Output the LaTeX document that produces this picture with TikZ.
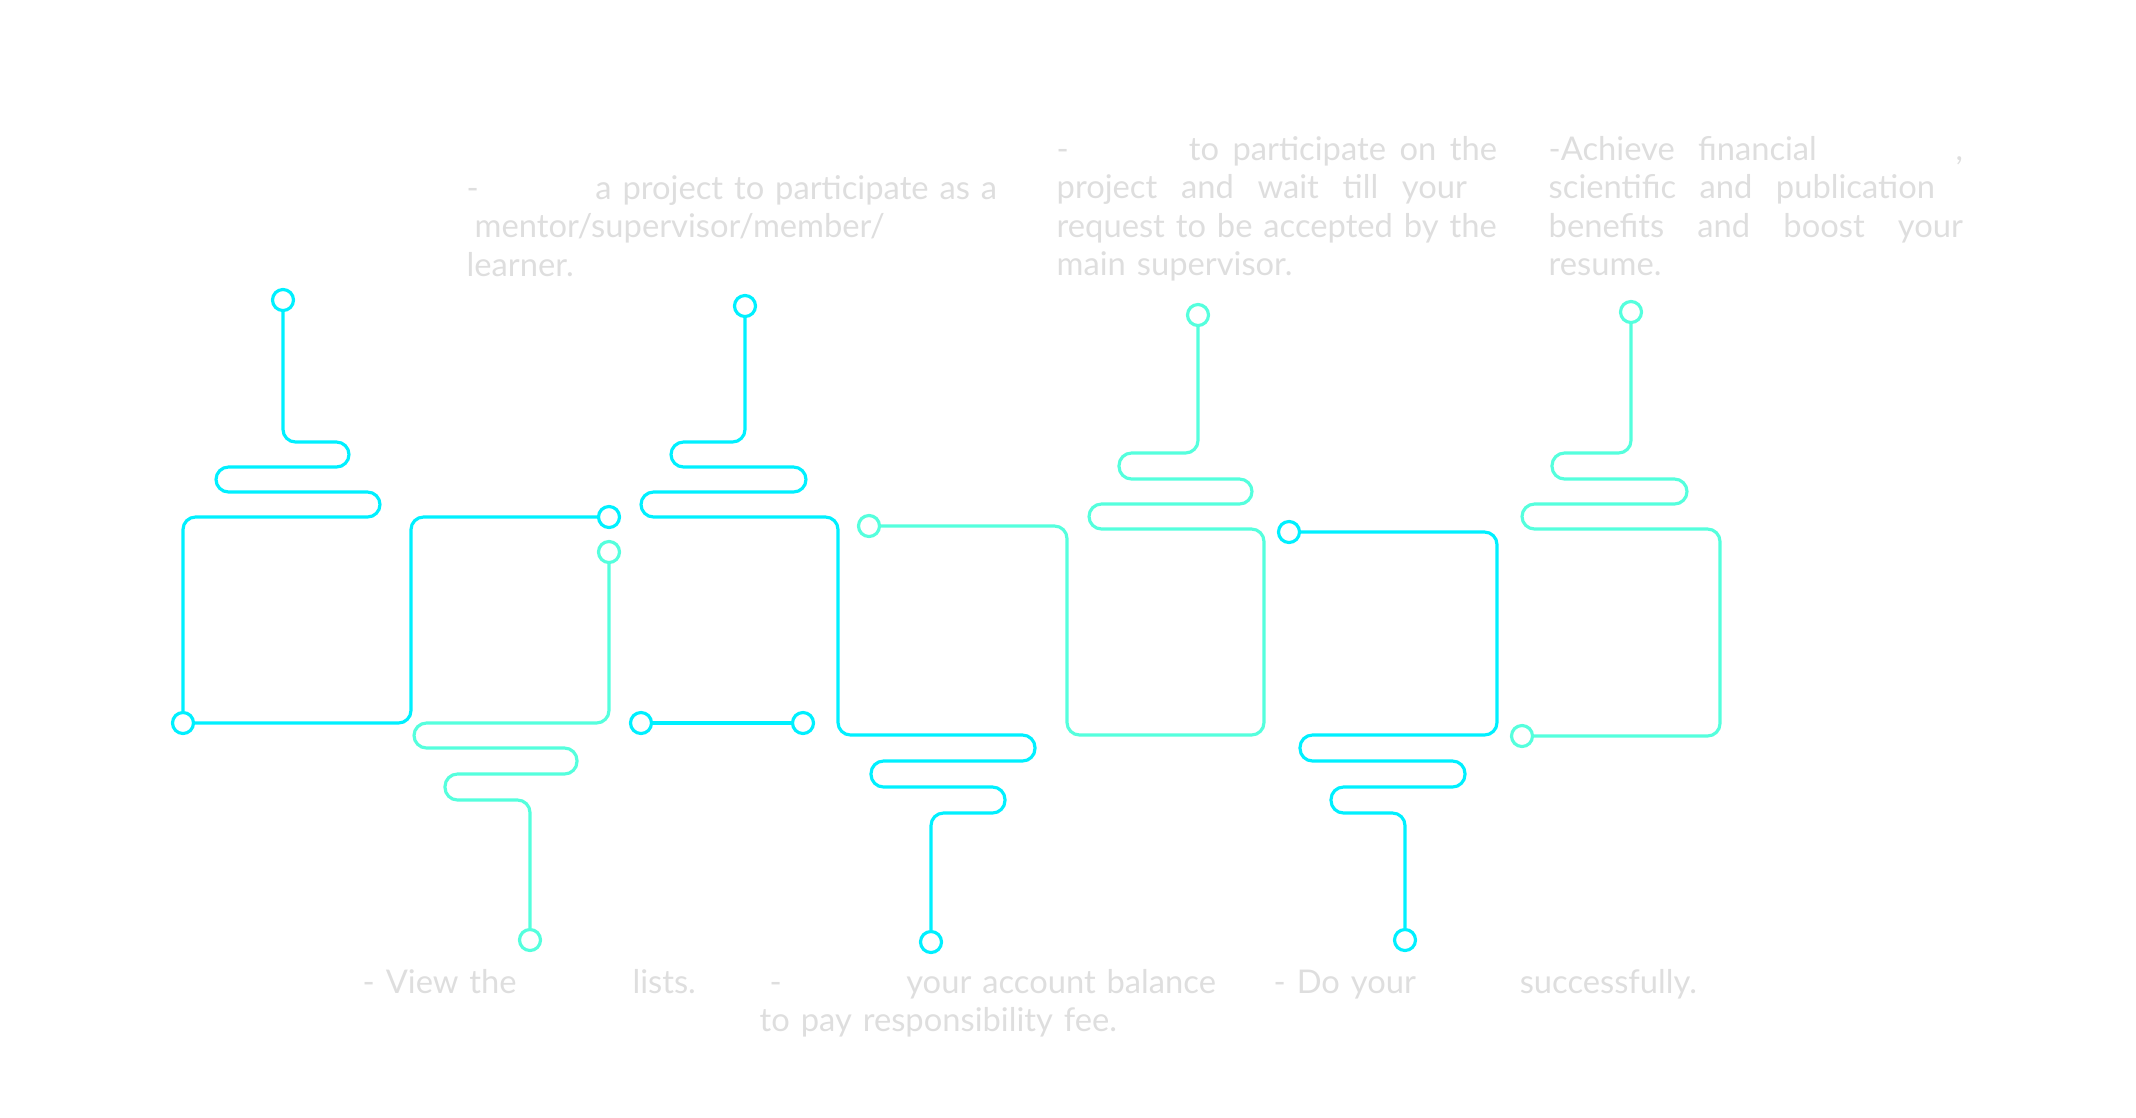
\documentclass[tikz,border=0pt]{standalone}
\usepackage{fontspec}
\setmainfont{Lato}
\definecolor{wirecyan}{RGB}{0,240,255}
\definecolor{wireteal}{RGB}{85,255,221}
\definecolor{notegray}{RGB}{222,222,222}
\tikzstyle{cyanpin} = [circle, draw=wirecyan, line width=0.9pt, inner sep=0pt, minimum size=2.1mm, fill=white]
\tikzstyle{tealpin} = [circle, draw=wireteal, line width=0.9pt, inner sep=0pt, minimum size=2.1mm, fill=white]
\tikzstyle{cyanwire} = [draw=wirecyan, line width=0.9pt, rounded corners=1.25mm]
\tikzstyle{tealwire} = [draw=wireteal, line width=0.9pt, rounded corners=1.25mm]
\tikzstyle{note} = [text=notegray, inner sep=0pt, anchor=base west, font=\fontsize{9.3pt}{0.385cm}\selectfont]

\begin{document}
\begin{tikzpicture}[x=0.01cm, y=-0.01cm]
\useasboundingbox (0,0) rectangle (2136,1117);

% Pins
\node (a1) [cyanpin] at (283,300) {};
\node (a2) [cyanpin] at (183,723) {};
\node (b1) [cyanpin] at (609,517) {};
\node (c1) [tealpin] at (609,552) {};
\node (c2) [tealpin] at (530,940) {};
\node (d1) [cyanpin] at (641,723) {};
\node (d2) [cyanpin] at (803,723) {};
\node (e1) [cyanpin] at (745,306) {};
\node (e2) [cyanpin] at (931,942) {};
\node (f1) [tealpin] at (869,526) {};
\node (f2) [tealpin] at (1198,315) {};
\node (g1) [cyanpin] at (1289,532) {};
\node (g2) [cyanpin] at (1405,940) {};
\node (h1) [tealpin] at (1522,736) {};
\node (h2) [tealpin] at (1631,312) {};

% Wires
\draw [cyanwire] (a1) -- (283,442) -- (349,442) -- (349,467) -- (216,467) -- (216,492) -- (380,492) -- (380,517) -- (183,517) -- (a2);
\draw [cyanwire] (a2) -- (411,723) -- (411,517) -- (b1);
\draw [tealwire] (c1) -- (609,723) -- (414,723) -- (414,748) -- (577,748) -- (577,774) -- (445,774) -- (445,800) -- (530,800) -- (c2);
\draw [cyanwire] (d1) -- (d2);
\draw [cyanwire] (e1) -- (745,442) -- (671,442) -- (671,467) -- (806,467) -- (806,492) -- (641,492) -- (641,517) -- (838,517) -- (838,735) -- (1035,735) -- (1035,761) -- (871,761) -- (871,787) -- (1005,787) -- (1005,813) -- (931,813) -- (e2);
\draw [tealwire] (f1) -- (1067,526) -- (1067,735) -- (1264,735) -- (1264,529) -- (1089,529) -- (1089,504) -- (1252,504) -- (1252,479) -- (1119,479) -- (1119,453) -- (1198,453) -- (f2);
\draw [cyanwire] (g1) -- (1497,532) -- (1497,735) -- (1300,735) -- (1300,761) -- (1465,761) -- (1465,787) -- (1331,787) -- (1331,813) -- (1405,813) -- (g2);
\draw [tealwire] (h1) -- (1720,736) -- (1720,529) -- (1522,529) -- (1522,504) -- (1687,504) -- (1687,479) -- (1552,479) -- (1552,453) -- (1631,453) -- (h2);

% Notes
\node (choose) [note, text width=5.50cm] at (466,199) {\makebox[5.30cm][s]{-\hfill a project to participate as a}\\\hspace*{0.08cm}mentor/supervisor/member/\\learner.};
\node (request) [note, text width=4.60cm] at (1056,160) {\makebox[4.40cm][s]{-\hspace*{1.20cm}to\hfill participate\hfill on\hfill the}\\\makebox[4.10cm][s]{project\hfill and\hfill wait\hfill till\hfill your}\\\makebox[4.40cm][s]{request to be accepted by the}\\main supervisor.};
\node (achieve) [note, text width=4.40cm] at (1548,160) {\makebox[4.14cm][s]{-Achieve\hfill financial\hfill\hfill\hfill\hfill\hfill\hfill ,}\\\makebox[3.86cm][s]{scientific\hfill and\hfill publication}\\\makebox[4.14cm][s]{benefits\hfill and\hfill boost\hfill your}\\resume.};
\node (view) [note, text width=3.60cm] at (362,993) {\makebox[3.33cm][s]{- View the\hfill lists.}};
\node (charge) [note, text width=4.90cm] at (759,993) {\hspace*{0.10cm}\makebox[4.46cm][s]{-\hfill your account balance}\\to pay responsibility fee.};
\node (task) [note, text width=4.50cm] at (1273,993) {\makebox[4.23cm][s]{- Do your\hfill successfully.}};

\end{tikzpicture}
\end{document}
